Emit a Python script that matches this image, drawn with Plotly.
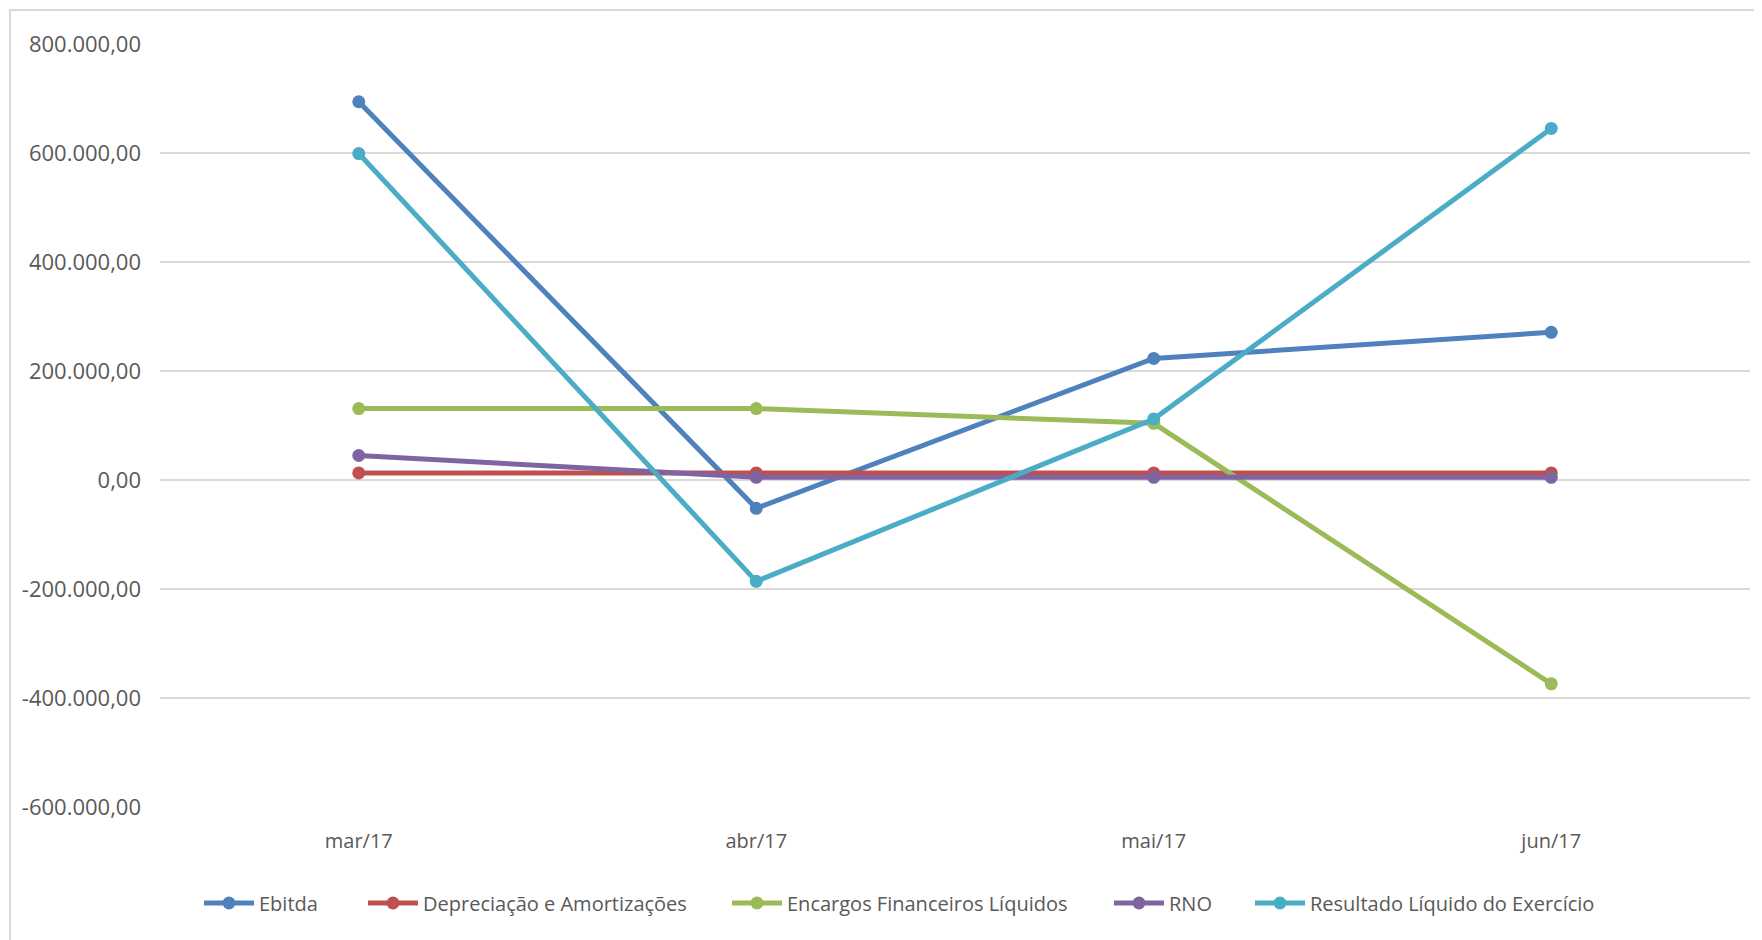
import plotly.graph_objects as go

months = ["mar/17", "abr/17", "mai/17", "jun/17"]
ebitda = [694000, -52000, 223000, 271000]
depreciacao = [13000, 13000, 13000, 13000]
encargos = [131000, 131000, 104000, -374000]
rno = [45000, 5000, 5000, 5000]
resultado = [599000, -186000, 112000, 645000]

series_names = ["Ebitda", "Depreciação e Amortizações", "Encargos Financeiros Líquidos",
                "RNO", "Resultado Líquido do Exercício"]
series_values = [ebitda, depreciacao, encargos, rno, resultado]
colors = ["#4F81BD", "#C0504D", "#9BBB59", "#8064A2", "#4BACC6"]

y_tickvals = [-600000, -400000, -200000, 0, 200000, 400000, 600000, 800000]
y_ticktext = ["-600.000,00", "-400.000,00", "-200.000,00", "0,00",
              "200.000,00", "400.000,00", "600.000,00", "800.000,00"]

W, H = 1762, 940
OFF = 8  # body margin of the html page
L, R, T, B = 160 - OFF, 1750 - OFF, 44 - OFF, 807 - OFF

# legend symbol start positions (page px)
legend_x = [211, 375, 739, 1121, 1262]
legend_y = 903

fig = go.Figure()
legend_defs = {}
for i, (name, vals, col) in enumerate(zip(series_names, series_values, colors)):
    lname = "legend" if i == 0 else f"legend{i + 1}"
    fig.add_trace(go.Scatter(
        x=months, y=vals, name=name, mode="lines+markers",
        line=dict(color=col, width=5),
        marker=dict(color=col, size=13),
        legend=lname,
    ))
    legend_defs[lname] = dict(
        orientation="h", xref="container", yref="container",
        x=(legend_x[i] - OFF - 12) / W, xanchor="left",
        y=(H - (legend_y - OFF)) / H, yanchor="middle",
        font=dict(family="Open Sans", size=20, color="#595959"),
        itemwidth=50, bgcolor="rgba(0,0,0,0)",
    )

fig.update_layout(
    width=W, height=H,
    margin=dict(l=L, r=W - R, t=T, b=H - B, autoexpand=False),
    paper_bgcolor="white", plot_bgcolor="white",
    font=dict(family="Open Sans", color="#595959", size=20),
    showlegend=True,
    xaxis=dict(type="category", range=[-0.5, 3.5], showgrid=False, showline=False,
               zeroline=False, ticks="", ticklabelstandoff=20,
               tickfont=dict(size=20, color="#595959")),
    yaxis=dict(range=[-600000, 800000], tickvals=y_tickvals, ticktext=y_ticktext,
               showgrid=True, gridcolor="#D9D9D9", gridwidth=2,
               zeroline=True, zerolinecolor="#D9D9D9", zerolinewidth=2,
               showline=False, ticks="", ticklabelstandoff=18,
               tickfont=dict(size=22, color="#595959")),
    **legend_defs,
)

# outer chart frame (partially visible at left and top)
pw, ph = R - L, B - T
fig.add_shape(type="rect", xref="paper", yref="paper",
              x0=(2 - L) / pw, x1=(1775 - L) / pw,
              y0=(B - 955) / ph, y1=(B - 2) / ph,
              line=dict(color="#D9D9D9", width=2), fillcolor="rgba(0,0,0,0)",
              layer="below")

fig.write_html("out.html")
